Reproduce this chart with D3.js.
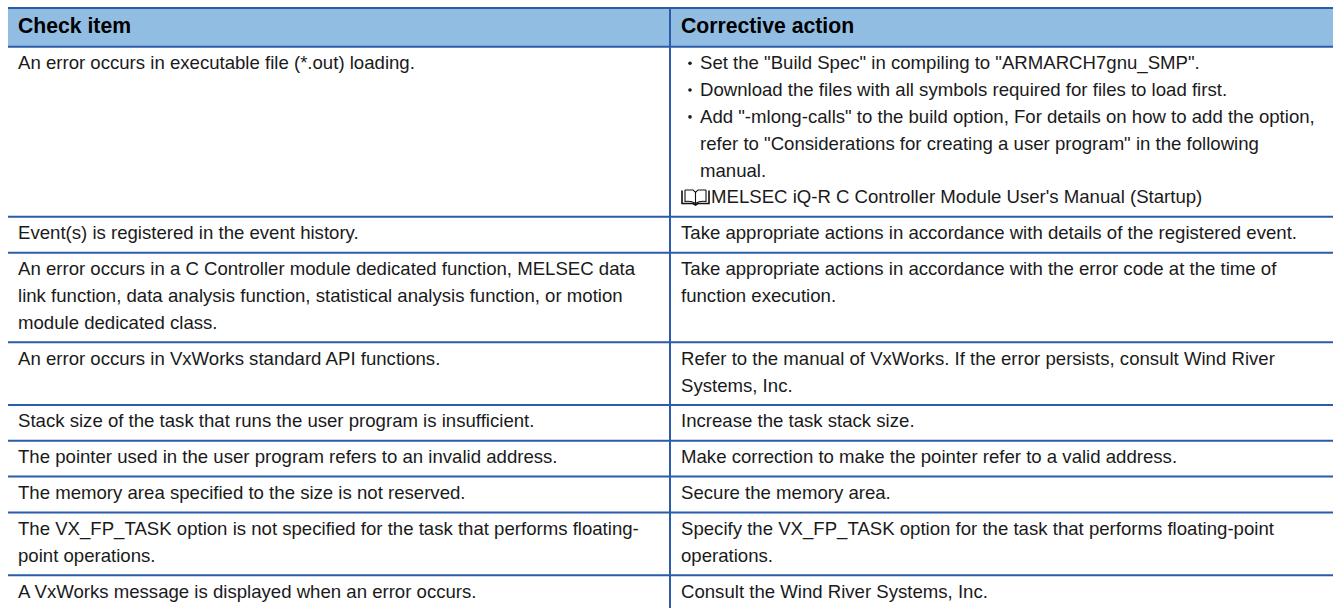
<!DOCTYPE html>
<html>
<head>
<meta charset="utf-8">
<script src="https://cdn.jsdelivr.net/npm/d3@7"></script>
<style>
    html, body { margin: 0; padding: 0; background: #fff; overflow: hidden; }
    svg { display: block; }
    text { font-family: "Liberation Sans", Arial, sans-serif; }
</style>
</head>
<body>
<svg id="chart" width="1333" height="608"></svg>
<script>
// table content
const headers = ['Check item', 'Corrective action'];

const checkItems = [
    ['An error occurs in executable file (*.out) loading.'],
    ['Event(s) is registered in the event history.'],
    ['An error occurs in a C Controller module dedicated function, MELSEC data',
     'link function, data analysis function, statistical analysis function, or motion',
     'module dedicated class.'],
    ['An error occurs in VxWorks standard API functions.'],
    ['Stack size of the task that runs the user program is insufficient.'],
    ['The pointer used in the user program refers to an invalid address.'],
    ['The memory area specified to the size is not reserved.'],
    ['The VX_FP_TASK option is not specified for the task that performs floating-',
     'point operations.'],
    ['A VxWorks message is displayed when an error occurs.']
];

const actions = [
    ['Set the "Build Spec" in compiling to "ARMARCH7gnu_SMP".',
     'Download the files with all symbols required for files to load first.',
     'Add "-mlong-calls" to the build option, For details on how to add the option,',
     'refer to "Considerations for creating a user program" in the following',
     'manual.',
     'MELSEC iQ-R C Controller Module User\'s Manual (Startup)'],
    ['Take appropriate actions in accordance with details of the registered event.'],
    ['Take appropriate actions in accordance with the error code at the time of',
     'function execution.'],
    ['Refer to the manual of VxWorks. If the error persists, consult Wind River',
     'Systems, Inc.'],
    ['Increase the task stack size.'],
    ['Make correction to make the pointer refer to a valid address.'],
    ['Secure the memory area.'],
    ['Specify the VX_FP_TASK option for the task that performs floating-point',
     'operations.'],
    ['Consult the Wind River Systems, Inc.']
];

// first row: which lines get a bullet, which one gets the book icon
const bulletLines = [0, 1, 2];
const indentLines = [3, 4];
const bookLine = 5;

const rowLineCounts = checkItems.map((d, i) => Math.max(d.length, actions[i].length));

const svg = d3.select('#chart');

const left = 8, right = 1333, split = 670;
const headerTop = 8, headerBottom = 46.7;
const lineHeight = 26.85, rowPad = 9;
const baselineOffset = 22.5;
const bodySize = 18.6, headSize = 21.2;
const col1x = 18, col2x = 681;
const border = '#2b5ca8', headerFill = '#92bde3', textColor = '#1a1a1a';

// row boundaries
const rowTops = [headerBottom];
rowLineCounts.forEach(n => {
    rowTops.push(rowTops[rowTops.length - 1] + n * lineHeight + rowPad);
});

svg.append('rect')
    .attr('x', left).attr('y', headerTop)
    .attr('width', right - left).attr('height', headerBottom - headerTop)
    .attr('fill', headerFill);

svg.selectAll('text.head')
    .data(headers)
    .enter().append('text')
    .attr('class', 'head')
    .attr('x', (d, i) => i === 0 ? col1x : col2x)
    .attr('y', 33)
    .attr('font-size', headSize)
    .attr('font-weight', 'bold')
    .attr('fill', '#000')
    .text(d => d);

svg.selectAll('line.rule')
    .data([headerTop].concat(rowTops))
    .enter().append('line')
    .attr('class', 'rule')
    .attr('x1', left).attr('x2', right)
    .attr('y1', d => d).attr('y2', d => d)
    .attr('stroke', border)
    .attr('stroke-width', 2);

svg.append('line')
    .attr('x1', split).attr('x2', split)
    .attr('y1', headerTop).attr('y2', 608)
    .attr('stroke', border)
    .attr('stroke-width', 2);

// check items
checkItems.forEach((lines, i) => {
    svg.append('g').selectAll('text')
        .data(lines)
        .enter().append('text')
        .attr('x', col1x)
        .attr('y', (d, j) => rowTops[i] + baselineOffset + j * lineHeight)
        .attr('font-size', bodySize)
        .attr('fill', textColor)
        .text(d => d);
});

// corrective actions
actions.forEach((lines, i) => {
    svg.append('g').selectAll('text')
        .data(lines)
        .enter().append('text')
        .attr('x', (d, j) => {
            if (i !== 0) return col2x;
            if (bulletLines.includes(j) || indentLines.includes(j)) return 700;
            return 711;
        })
        .attr('y', (d, j) => rowTops[i] + baselineOffset + j * lineHeight)
        .attr('font-size', bodySize)
        .attr('fill', textColor)
        .text(d => d);
});

// bullets on the first row
svg.selectAll('circle.bullet')
    .data(bulletLines)
    .enter().append('circle')
    .attr('class', 'bullet')
    .attr('cx', 690)
    .attr('cy', d => rowTops[0] + baselineOffset - 6 + d * lineHeight)
    .attr('r', 1.8)
    .attr('fill', textColor);

// book icon in front of the manual name
const bookY = rowTops[0] + baselineOffset + bookLine * lineHeight;
const book = svg.append('g')
    .attr('transform', `translate(681,${bookY - 14})`)
    .attr('fill', 'none')
    .attr('stroke', '#111')
    .attr('stroke-width', 1.1);
book.append('path').attr('stroke-width', 1.6).attr('d', 'M1,1 L1,14 L12,14 L14.5,15.5 L17,14 L28,14 L28,1');
book.append('path').attr('d', 'M4,0.5 L4,12 Q10,11 14.5,14 Q19,11 25,12 L25,0.5 M4,0.5 L12,0.5 L14.5,3 L17,0.5 L25,0.5 M14.5,3 L14.5,14');
</script>
</body>
</html>
